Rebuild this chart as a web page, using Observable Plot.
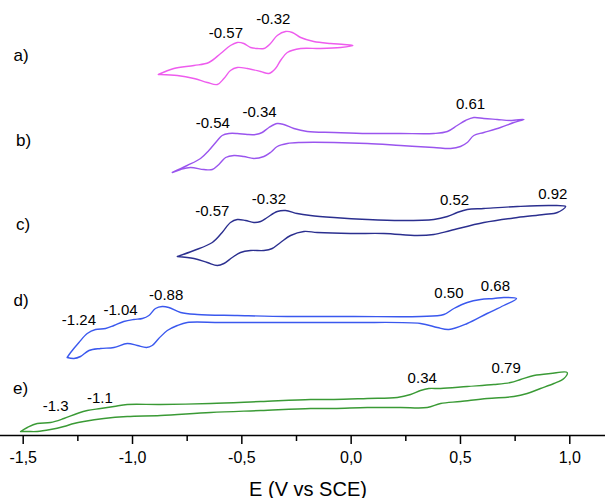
<!DOCTYPE html>
<html>
<head>
<meta charset="utf-8">
<script src="https://cdn.jsdelivr.net/npm/d3@7"></script>
<script src="https://cdn.jsdelivr.net/npm/@observablehq/plot@0.6"></script>
<style>
  html, body { margin: 0; padding: 0; background: #fff; }
  #chart svg { display: block; font-family: "Liberation Sans", Arial, sans-serif; }
</style>
</head>
<body>
<div id="chart"></div>
<script>
// ---- Data (E in V vs SCE, current in arbitrary offset units) ----
const traceNames = ["a)", "b)", "c)", "d)", "e)"];
const traceColors = ["#ee5cee", "#9a55ee", "#2b2f8f", "#3a58ee", "#3a9a35"];

const aE = [-0.882,-0.811,-0.719,-0.651,-0.597,-0.552,-0.521,-0.491,-0.460,-0.429,-0.399,-0.369,-0.338,-0.300,-0.269,-0.231,-0.171,-0.094,-0.033,0.008,
            -0.048,-0.140,-0.231,-0.292,-0.323,-0.346,-0.376,-0.414,-0.475,-0.521,-0.552,-0.582,-0.612,-0.658,-0.719,-0.795,-0.871,-0.882];
const aI = [361,367,370,373,382,390,393,392,388,387,387,392,400,404,403,398,394,392,391,390,
            388,387,387,383,375,367,362,364,367,368,365,357,351,353,357,360,361,361];

const bE = [-0.818,-0.750,-0.689,-0.651,-0.612,-0.590,-0.559,-0.521,-0.475,-0.437,-0.407,-0.376,-0.338,-0.308,-0.262,-0.201,-0.079,0.074,0.226,0.378,0.440,0.485,0.523,0.561,0.607,0.668,0.729,0.790,
            0.744,0.683,0.607,0.561,0.531,0.500,0.455,0.378,0.226,0.074,-0.079,-0.231,-0.292,-0.338,-0.369,-0.399,-0.445,-0.491,-0.536,-0.574,-0.605,-0.635,-0.674,-0.735,-0.780,-0.818];
const bI = [263,270,277,285,295,300,302,302,301,301,303,308,312,311,307,304,303,302,302,302,304,310,315,318,317,316,315,316,
            313,308,303,300,293,289,287,288,290,292,293,293,292,289,283,279,277,279,280,278,271,266,266,268,266,263];

const cE = [-0.795,-0.719,-0.635,-0.590,-0.552,-0.521,-0.483,-0.445,-0.414,-0.384,-0.338,-0.300,-0.247,-0.186,-0.079,0.074,0.226,0.378,0.440,0.485,0.531,0.607,0.760,0.912,0.981,
            0.943,0.881,0.760,0.607,0.455,0.378,0.302,0.150,-0.003,-0.155,-0.216,-0.277,-0.323,-0.361,-0.399,-0.460,-0.506,-0.544,-0.582,-0.612,-0.658,-0.719,-0.795];
const cI = [179,185,193,203,213,216,215,213,214,218,224,225,222,220,218,216,215,216,219,223,226,227,229,230,229,
            223,221,218,213,205,201,200,202,202,203,204,200,193,187,185,185,183,178,172,170,173,177,179];

const dE = [-1.299,-1.283,-1.245,-1.207,-1.169,-1.123,-1.085,-1.040,-0.994,-0.955,-0.925,-0.895,-0.864,-0.834,-0.780,-0.704,-0.521,-0.292,0.012,0.317,0.424,0.470,0.531,0.592,0.653,0.698,0.756,
            0.698,0.622,0.531,0.447,0.394,0.317,0.012,-0.292,-0.597,-0.750,-0.795,-0.841,-0.880,-0.910,-0.936,-0.978,-1.024,-1.085,-1.146,-1.199,-1.238,-1.268,-1.299];
const dI = [78,83,93,102,106,107,110,114,116,117,120,127,129,128,123,121,120,119,119,119,121,127,133,136,137,138,137,
            130,122,112,106,108,112,113,113,113,113,110,105,97,90,88,90,92,88,87,85,79,77,78];

const eE = [-1.512,-1.481,-1.436,-1.375,-1.314,-1.253,-1.207,-1.146,-1.085,-1.024,-0.872,-0.643,-0.414,-0.186,-0.079,0.074,0.211,0.272,0.317,0.355,0.409,0.531,0.653,0.729,0.775,0.836,0.912,0.988,
            0.973,0.927,0.866,0.805,0.744,0.622,0.500,0.409,0.348,0.226,0.074,-0.079,-0.186,-0.414,-0.643,-0.872,-1.024,-1.131,-1.223,-1.268,-1.314,-1.375,-1.436,-1.481,-1.512];
const eI = [4,8,12,13,17,22,25,27,29,31,31,32,34,36,36,37,38,41,45,47,47,49,51,53,56,60,62,63,
            57,52,47,42,39,37,34,32,28,28,28,27,27,25,23,20,19,17,14,12,9,6,4,4,4];

// Peak potential annotations
const peakText = ["-0.57","-0.32", "-0.54","-0.34","0.61", "-0.57","-0.32","0.52","0.92", "-1.24","-1.04","-0.88","0.50","0.68", "-1.3","-1.1","0.34","0.79"];
const peakE    = [-0.573,-0.356, -0.633,-0.419,0.546, -0.635,-0.376,0.473,0.922, -1.245,-1.055,-0.846,0.447,0.660, -1.352,-1.149,0.325,0.709];
const peakI    = [402,416, 312,323,331, 224,236,235,241, 115,125,140,142,149, 29,37,57,67];

// Trace letter labels
const letterE = [-1.510,-1.498,-1.501,-1.510,-1.512];
const letterI = [380,295,211,135,47];

const majorTicks = [-1.5,-1.0,-0.5,0.0,0.5,1.0];
const minorTicks = [-1.25,-0.75,-0.25,0.25,0.75];
const xLabel = "E (V vs SCE)";

// ---- Build tables ----
const series = [[aE,aI],[bE,bI],[cE,cI],[dE,dI],[eE,eI]];
const rows = [];
series.forEach(([E, I], k) => E.forEach((e, j) => rows.push({trace: traceNames[k], E: e, I: I[j]})));
const peaks = peakText.map((t, j) => ({t, E: peakE[j], I: peakI[j]}));
const letters = traceNames.map((t, j) => ({t, E: letterE[j], I: letterI[j]}));
const fmt = d => d.toFixed(1).replace(".", ",");

const chart = Plot.plot({
  width: 605,
  height: 498,
  marginLeft: 0,
  marginRight: 0,
  marginTop: 0,
  marginBottom: 63,
  style: {fontFamily: '"Liberation Sans", Arial, sans-serif', background: "#fff", color: "#000"},
  x: {domain: [-1.6038, 1.1633]},
  y: {domain: [0, 435], axis: null},
  color: {domain: traceNames, range: traceColors},
  marks: [
    Plot.line(rows, {x: "E", y: "I", z: "trace", stroke: "trace", strokeWidth: 1.4, curve: "catmull-rom"}),
    Plot.ruleY([0], {stroke: "#000", strokeWidth: 1.6}),
    Plot.axisX({ticks: minorTicks, tickSize: 6, tickFormat: () => "", strokeWidth: 1.5, label: null}),
    Plot.axisX({ticks: majorTicks, tickSize: 9, tickPadding: 7, tickFormat: fmt, fontSize: 16, strokeWidth: 1.5, label: null}),
    Plot.text(peaks, {x: "E", y: "I", text: "t", fontSize: 15, textAnchor: "middle", lineAnchor: "middle", fill: "#000"}),
    Plot.text(letters, {x: "E", y: "I", text: "t", fontSize: 17, textAnchor: "middle", lineAnchor: "middle", fill: "#000"}),
    Plot.text([xLabel], {frameAnchor: "bottom", dx: 5, dy: 60, fontSize: 20, lineAnchor: "bottom", textAnchor: "middle", fill: "#000"})
  ]
});
document.getElementById("chart").appendChild(chart);
</script>
</body>
</html>
